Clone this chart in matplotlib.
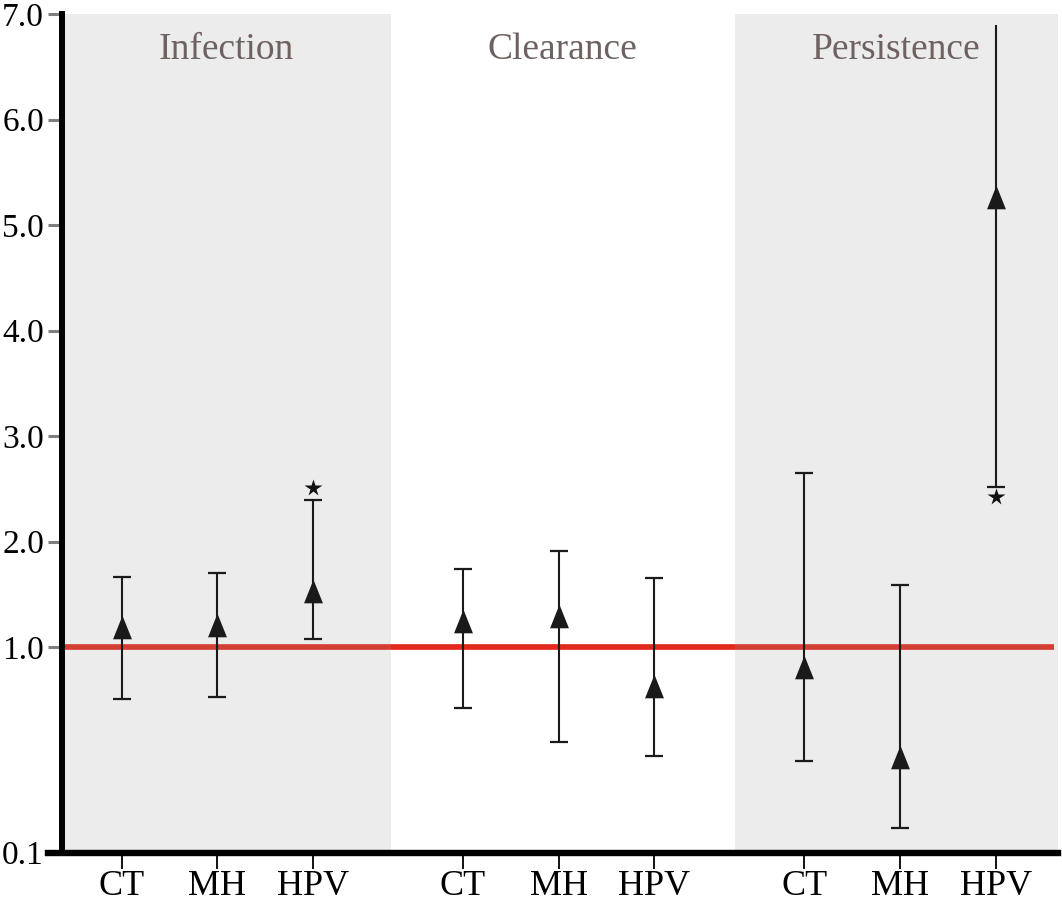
import numpy as np
import matplotlib
matplotlib.use("Agg")
import matplotlib.pyplot as plt
from matplotlib import transforms
from matplotlib.path import Path

# ---------------- data ----------------
panels = ["Infection", "Clearance", "Persistence"]
categories = ["CT", "MH", "HPV"]

or_infection = [1.185, 1.207, 1.53]
lo_infection = [0.556, 0.569, 1.079]
hi_infection = [1.66, 1.70, 2.396]

or_clearance = [1.249, 1.297, 0.644]
lo_clearance = [0.506, 0.345, 0.294]
hi_clearance = [1.738, 1.912, 1.658]

or_persistence = [0.797, 0.293, 5.27]
lo_persistence = [0.279, 0.132, 2.513]
hi_persistence = [2.65, 1.586, 6.90]

# significance stars: (panel index, category index, side)
stars = [(0, 2, "above"), (2, 2, "below")]
# upper CI truncated (no cap)
open_upper = [(2, 2)]

y_ticks = [0.1, 1.0, 2.0, 3.0, 4.0, 5.0, 6.0, 7.0]
y_ticklabels = ["0.1", "1.0", "2.0", "3.0", "4.0", "5.0", "6.0", "7.0"]

ors = [or_infection, or_clearance, or_persistence]
los = [lo_infection, lo_clearance, lo_persistence]
his = [hi_infection, hi_clearance, hi_persistence]

# ---------------- scale ----------------
LOWF = 1.95


def fwd(v):
    v = np.asarray(v, dtype=float)
    vv = np.clip(v, 1e-6, None)
    return np.where(v >= 1, v - 1.0, np.log10(vv) * LOWF)


def inv(y):
    y = np.asarray(y, dtype=float)
    return np.where(y >= 0, y + 1.0, 10 ** (np.minimum(y, 0) / LOWF))


serif = "Liberation Serif"
fig = plt.figure(figsize=(10.62, 9.06), dpi=100)
ax = fig.add_axes([0.0584, 0.0588, 0.9378, 0.9257])
ax.set_yscale("function", functions=(fwd, inv))

group_gap = 3.566
xpos = [[g * group_gap + i for i in range(3)] for g in range(3)]
xmin, xmax = -0.624, 9.784
ax.set_xlim(xmin, xmax)
ax.set_ylim(0.1, 7.0)

# reference line
ax.hlines(1.0, xmin, xmax - 0.04, color="#e12a1c", lw=4.1, zorder=1)

# shaded panels
b1, b2 = 2.809, 6.409
shade_kw = dict(facecolor="#9c9c9c", alpha=0.19, edgecolor="none", zorder=2)
ax.axvspan(xmin, b1, **shade_kw)
ax.axvspan(b2, xmax, **shade_kw)

# panel titles
centers = [(xmin + b1) / 2, (b1 + b2) / 2, (b2 + xmax) / 2]
for c, name in zip(centers, panels):
    ax.text(c, 0.946, name, transform=ax.get_xaxis_transform(),
            ha="center", va="baseline", fontsize=27, family=serif,
            color="#6e6260", zorder=5)

# triangle marker (taller than wide)
tri = Path([(-0.8, -1), (0.8, -1), (0, 1), (-0.8, -1)],
           [Path.MOVETO, Path.LINETO, Path.LINETO, Path.CLOSEPOLY])

ecol = "#1a1a1a"
for g in range(3):
    for i in range(3):
        x = xpos[g][i]
        lo, hi, o = los[g][i], his[g][i], ors[g][i]
        ax.vlines(x, lo, hi, color=ecol, lw=1.5, zorder=4)
        ax.plot([x], [lo], marker="_", ms=13, mew=1.6, color=ecol, zorder=4)
        if (g, i) not in open_upper:
            ax.plot([x], [hi], marker="_", ms=13, mew=1.6, color=ecol, zorder=4)
        ax.plot([x], [o], marker=tri, ms=17, color=ecol, mec="none", zorder=6)

for g, i, side in stars:
    x = xpos[g][i]
    if side == "above":
        tr = transforms.offset_copy(ax.transData, fig=fig, x=0, y=8.6, units="points")
        ax.plot([x], [his[g][i]], marker="*", ms=13, color="#111111",
                mec="none", transform=tr, zorder=6, clip_on=False)
    else:
        tr = transforms.offset_copy(ax.transData, fig=fig, x=0, y=-7.2, units="points")
        ax.plot([x], [los[g][i]], marker="*", ms=13, color="#111111",
                mec="none", transform=tr, zorder=6, clip_on=False)

# axes styling
for s in ["top", "right"]:
    ax.spines[s].set_visible(False)
ax.spines["left"].set_linewidth(4.3)
ax.spines["bottom"].set_linewidth(4.6)
ax.spines["left"].set_zorder(7)
ax.spines["bottom"].set_zorder(7)
ax.spines["bottom"].set_bounds(xmin - 0.15, xmax)

ax.set_yticks(y_ticks)
ax.set_yticklabels(y_ticklabels, family=serif, fontsize=24)
ax.yaxis.set_minor_locator(matplotlib.ticker.NullLocator())
ax.tick_params(axis="y", direction="out", length=10, width=2.2,
               color="#7f7f7f", pad=3)

ax.set_xticks([x for grp in xpos for x in grp])
ax.set_xticklabels(categories * 3, family=serif, fontsize=26)
ax.tick_params(axis="x", direction="out", length=11.5, width=1.4,
               color="#111111", pad=1)

fig.savefig("out.png", dpi=100)
